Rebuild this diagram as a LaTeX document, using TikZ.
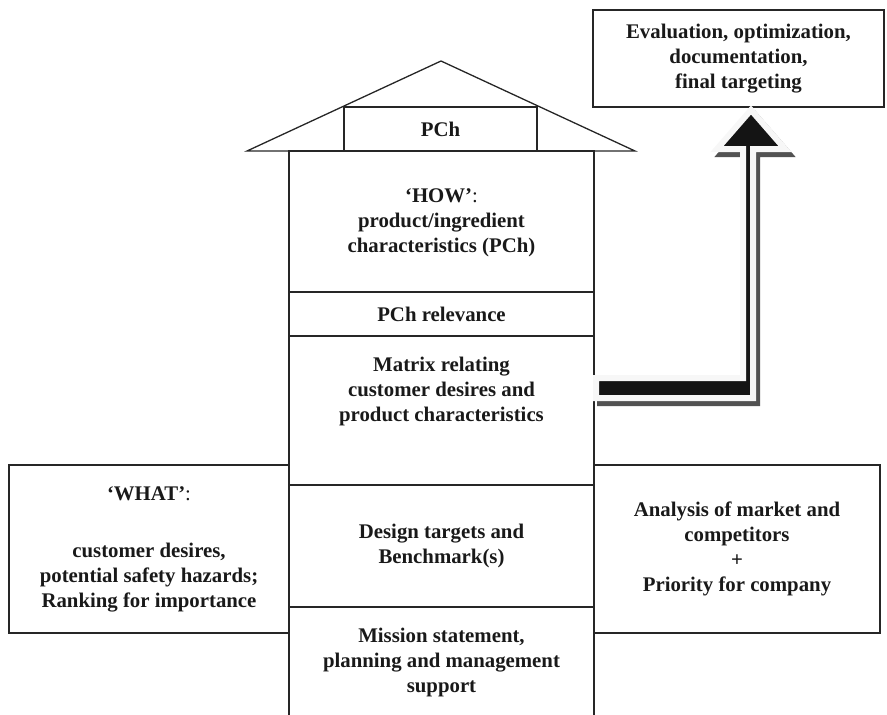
\documentclass[tikz,border=0pt]{standalone}
\usepackage{fontspec}
\setmainfont{Liberation Serif}
\begin{document}
\begin{tikzpicture}[x=1pt,y=-1pt,
  box/.style={draw=black!85, line width=1.3pt},
  txt/.style={font=\fontsize{20.8}{25}\selectfont\bfseries, align=center, inner sep=0pt, text=black!90},
  arrowshadow/.style={fill=black!68, draw=black!68, line width=6pt, line join=miter},
  arrowbody/.style={fill=black!92, draw=black!3, line width=6pt, line join=miter}
]
\useasboundingbox (0,0) rectangle (887,715);

% roof
\draw[box] (247,151) -- (441,61) -- (635,151) -- cycle;
\node[box, txt, minimum width=193pt, minimum height=44pt] (pch) at (440.5,129) {PCh};

% column
\draw[box] (289,716) -- (289,151) -- (594,151) -- (594,716);
\draw[box] (289,292) -- (594,292);
\draw[box] (289,336) -- (594,336);
\draw[box] (289,485) -- (594,485);
\draw[box] (289,607) -- (594,607);

\node[txt] (how) at (441.5,223) {‘HOW’{\mdseries :}\\product/ingredient\\characteristics (PCh)};
\node[txt] (rel) at (441.5,314) {PCh relevance};
\node[txt] (matrix) at (441.5,391) {Matrix relating\\customer desires and\\product characteristics};
\node[txt] (design) at (441.5,546) {Design targets and\\Benchmark(s)};
\node[txt] (mission) at (441.5,662) {Mission statement,\\planning and management\\support};

% side boxes
\node[box, txt, minimum width=280pt, minimum height=168pt] (what) at (149,549)
  {‘WHAT’{\mdseries :}\\[32pt]customer desires,\\potential safety hazards;\\Ranking for importance};
\node[box, txt, minimum width=286pt, minimum height=168pt] (market) at (737,549)
  {Analysis of market and\\competitors\\+\\Priority for company};

% top right box
\node[box, txt, minimum width=291pt, minimum height=97pt] (eval) at (738.5,58.5)
  {Evaluation, optimization,\\documentation,\\final targeting};

% big arrow with shadow
\begin{scope}[shift={(4,5)}]
\filldraw[arrowshadow] (596,378) -- (743,378) -- (743,149) -- (717,149) -- (751,110) -- (785,149) -- (753,149) -- (753,398) -- (596,398) -- cycle;
\end{scope}
\filldraw[arrowbody] (596,378) -- (743,378) -- (743,149) -- (717,149) -- (751,110) -- (785,149) -- (753,149) -- (753,398) -- (596,398) -- cycle;
\end{tikzpicture}
\end{document}
